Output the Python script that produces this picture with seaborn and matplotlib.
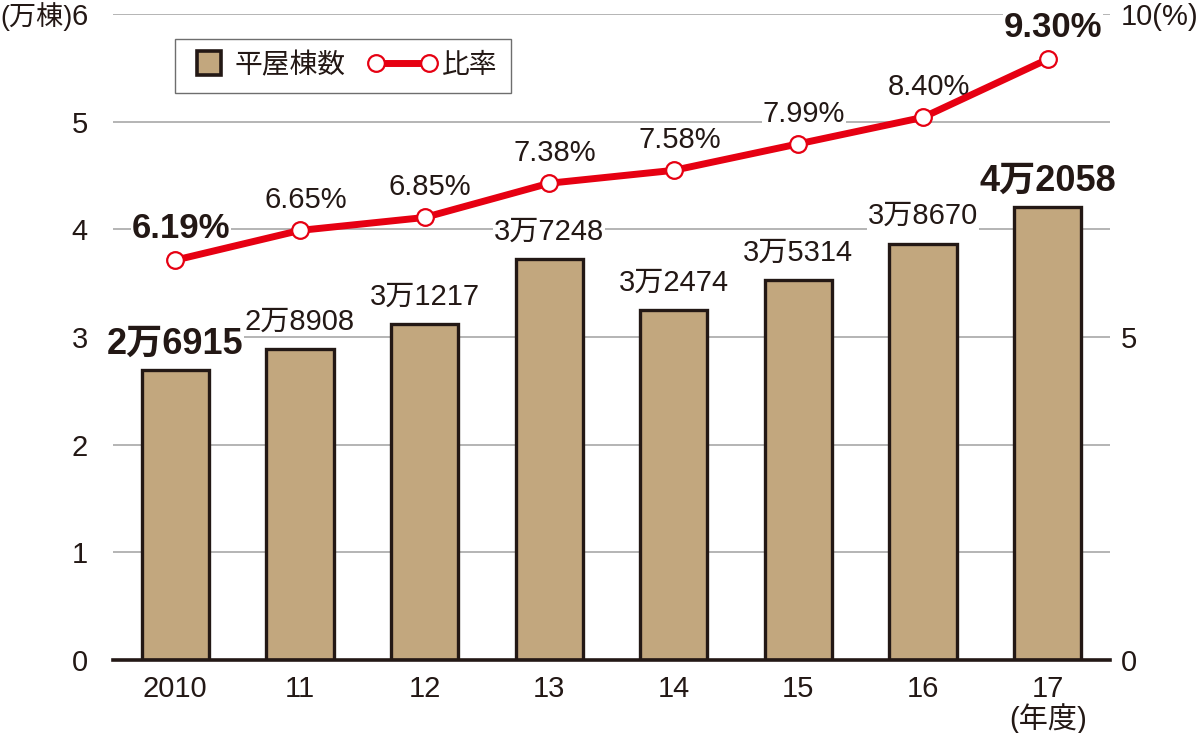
import matplotlib
matplotlib.use("Agg")
import matplotlib.pyplot as plt
from matplotlib.lines import Line2D
from matplotlib.legend_handler import HandlerBase
import seaborn as sns
import pandas as pd

# ---- data ----
years = ["2010", "11", "12", "13", "14", "15", "16", "17"]
houses_man = [2.6915, 2.8908, 3.1217, 3.7248, 3.2474, 3.5314, 3.8670, 4.2058]
house_labels = ["2万6915", "2万8908", "3万1217", "3万7248", "3万2474", "3万5314", "3万8670", "4万2058"]
ratio = [6.19, 6.65, 6.85, 7.38, 7.58, 7.99, 8.40, 9.30]
ratio_labels = ["6.19%", "6.65%", "6.85%", "7.38%", "7.58%", "7.99%", "8.40%", "9.30%"]
bold_idx = [0, 7]
left_ticks = [0, 1, 2, 3, 4, 5, 6]
left_ticklabels = ["0", "1", "2", "3", "4", "5", "6"]
right_ticks = [0, 5, 10]
right_ticklabels = ["0", "5", "10(%)"]
legend_labels = ["平屋棟数", "比率"]

BAR = "#c2a77e"
EDGE = "#231815"
RED = "#e60012"
GRID = "#a8a8a8"

sns.set_style("white")
plt.rcParams["font.family"] = ["Liberation Sans", "Noto Sans CJK JP"]
plt.rcParams["text.color"] = EDGE

df = pd.DataFrame({"year": years, "houses": houses_man, "ratio": ratio})

fig = plt.figure(figsize=(12, 7.33), dpi=100)
ax = fig.add_axes([113 / 1200, 73 / 733, 997 / 1200, 646 / 733])

sns.barplot(data=df, x="year", y="houses", ax=ax, color=BAR, width=0.54,
            edgecolor=EDGE, linewidth=2.4, saturation=1, zorder=3)
for p in ax.patches:
    p.set_facecolor(BAR)

ax.set_ylim(0, 6)
ax.set_xlim(-0.5, 7.5)
ax.set_yticks(left_ticks)
ax.set_yticklabels(left_ticklabels)
ax.yaxis.grid(True, color=GRID, linewidth=1.2, zorder=0)
ax.set_axisbelow(True)
ax.set_xlabel("")
ax.set_ylabel("")
for s in ["left", "right", "top"]:
    ax.spines[s].set_visible(False)
ax.spines["bottom"].set_color(EDGE)
ax.spines["bottom"].set_linewidth(2.6)
ax.spines["bottom"].set_zorder(5)
ax.tick_params(axis="y", length=0, pad=18, labelsize=21, labelcolor=EDGE)
ax.tick_params(axis="x", length=0, pad=11, labelsize=21, labelcolor=EDGE)

# unit label for left axis
fig.text(0 / 1200, 1 - 17 / 733, "(万棟)", ha="left", va="center", fontsize=19.5, color=EDGE)

# bar labels
for i, (v, lab) in enumerate(zip(houses_man, house_labels)):
    bold = i in bold_idx
    ax.annotate(lab, xy=(i, v), xytext=(0, 12 if bold else 14), textcoords="offset points",
                ha="center", va="baseline", fontsize=26 if bold else 21,
                fontweight="bold" if bold else "normal", color=EDGE, zorder=6,
                bbox=dict(fc="white", ec="none", pad=0.5))

# ratio line
ax2 = ax.twinx()
ax2.set_position(ax.get_position())
sns.pointplot(data=df, x="year", y="ratio", ax=ax2, color=RED, markers="o",
              linewidth=5, markersize=12, markerfacecolor="white",
              markeredgecolor=RED, markeredgewidth=1.6, errorbar=None, zorder=4)
ax2.set_ylim(0, 10)
ax2.set_xlim(-0.5, 7.5)
ax2.set_yticks(right_ticks)
ax2.set_yticklabels(right_ticklabels)
ax2.set_ylabel("")
ax2.set_xlabel("")
for s in ["left", "right", "top", "bottom"]:
    ax2.spines[s].set_visible(False)
ax2.tick_params(axis="y", length=0, pad=8, labelsize=21, labelcolor=EDGE)
ax2.grid(False)

for i, (v, lab) in enumerate(zip(ratio, ratio_labels)):
    bold = i in bold_idx
    ax2.annotate(lab, xy=(i, v), xytext=(4, 16), textcoords="offset points",
                 ha="center", va="baseline", fontsize=25 if bold else 21,
                 fontweight="bold" if bold else "normal", color=EDGE, zorder=2,
                 bbox=dict(fc="white", ec="none", pad=0.5))

ax.text(7, -0.09, "(年度)", transform=ax.get_xaxis_transform(), ha="center",
        va="center", fontsize=21, color=EDGE)


# legend handlers
class SquareHandler(HandlerBase):
    def create_artists(self, legend, orig_handle, xdescent, ydescent, width, height,
                       fontsize, trans):
        s = 17.5
        cx = -xdescent + 5.5 + s / 2
        cy = -ydescent + height / 2
        m = Line2D([cx], [cy], linestyle="none", marker="s", markersize=s,
                   markerfacecolor=BAR, markeredgecolor=EDGE, markeredgewidth=2.6,
                   transform=trans)
        return [m]


class LineHandler(HandlerBase):
    def create_artists(self, legend, orig_handle, xdescent, ydescent, width, height,
                       fontsize, trans):
        cy = -ydescent + height / 2
        x0 = -xdescent - 14
        x1 = -xdescent + width - 5
        ln = Line2D([x0, x1], [cy, cy], color=RED, linewidth=5, transform=trans)
        mk = Line2D([x0, x1], [cy, cy], linestyle="none", marker="o", markersize=12,
                    markerfacecolor="white", markeredgecolor=RED, markeredgewidth=1.6,
                    transform=trans)
        return [ln, mk]


h_bar = Line2D([], [], color=BAR)
h_line = Line2D([], [], color=RED)
leg = fig.legend([h_bar, h_line], legend_labels, loc="upper left",
                 bbox_to_anchor=(175 / 1200, 1 - 39 / 733), borderaxespad=0,
                 handler_map={h_bar: SquareHandler(), h_line: LineHandler()},
                 fontsize=20, frameon=True, fancybox=False, handlelength=1.45,
                 handletextpad=0.2, columnspacing=1.8, ncol=2, borderpad=0.5,
                 labelcolor=EDGE)
leg.get_frame().set_edgecolor("#4a4a4a")
leg.get_frame().set_linewidth(1.0)
leg.set_zorder(10)

fig.savefig("out.png", dpi=100, facecolor="white")
